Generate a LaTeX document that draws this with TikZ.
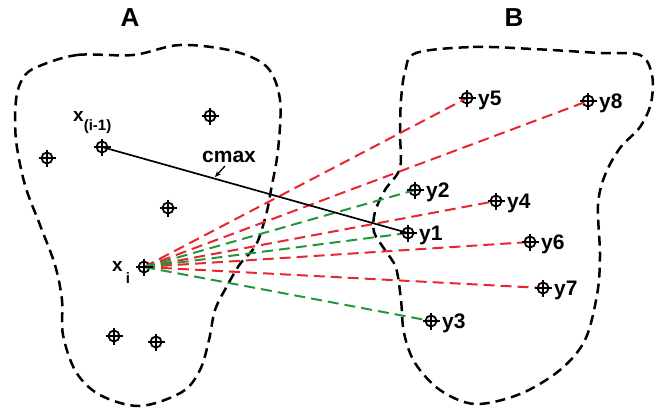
\documentclass[tikz,border=0pt]{standalone}
\usepackage{fontspec}
\setmainfont{Liberation Sans}
\usetikzlibrary{arrows.meta}
\definecolor{lred}{RGB}{232,38,48}
\definecolor{lgreen}{RGB}{34,150,60}
\begin{document}
\begin{tikzpicture}[x=1pt,y=-1pt,
  mk/.style={circle, draw=black, line width=1.8pt, minimum size=11pt, inner sep=0pt},
  cross/.style={line width=1.8pt},
  bound/.style={line width=2.5pt, dash pattern=on 10pt off 6pt},
  rl/.style={lred, line width=2pt, dash pattern=on 11pt off 6pt},
  gl/.style={lgreen, line width=2pt, dash pattern=on 11pt off 6pt},
  lbl/.style={anchor=base west, inner sep=0pt, font=\fontsize{21}{21}\selectfont\bfseries},
  big/.style={anchor=base, inner sep=0pt, font=\fontsize{26}{26}\selectfont\bfseries}]
\useasboundingbox (0,0) rectangle (666,413);
% regions
\draw[bound] plot[smooth cycle, tension=0.55] coordinates {
 (37,67) (77,55) (133,55) (180,45) (233,51) (267,67) (280,100) (278,150) (271,190)
 (266,215) (256,245) (240,264) (227,286) (215,310) (209,340) (200,370) (182,392)
 (140,406) (100,395) (76,372) (63,335) (62,300) (55,265) (40,225) (25,185) (16,140) (16,100) (23,78)};
\draw[bound] plot[smooth cycle, tension=0.55] coordinates {
 (416,53) (473,47) (533,49) (600,53) (640,55) (652,75) (651,103) (640,127) (620,148)
 (605,175) (598,205) (600,256) (597,295) (585,340) (560,370) (520,394) (475,404)
 (440,390) (415,363) (404,333) (401,300) (396,268) (385,250) (374,232) (375,212) (385,190) (400,168)
 (400,133) (401,100) (405,72)};
% markers
\node[mk] (xim1) at (102,147) {};
\node[mk] (a2) at (210,116) {};
\node[mk] (a3) at (47,158) {};
\node[mk] (a4) at (168,208) {};
\node[mk] (xi) at (144,267) {};
\node[mk] (a6) at (114,336) {};
\node[mk] (a7) at (156,342) {};
\node[mk] (y5) at (467,98) {};
\node[mk] (y8) at (588,101) {};
\node[mk] (y2) at (415,190) {};
\node[mk] (y4) at (496,201) {};
\node[mk] (y1) at (408,233) {};
\node[mk] (y6) at (530,242) {};
\node[mk] (y7) at (543,288) {};
\node[mk] (y3) at (431,321) {};
% connectors
\foreach \t in {y5,y8,y4,y6,y7} \draw[rl] (xi.center) -- (\t.center);
\foreach \t in {y2,y1,y3} \draw[gl] (xi.center) -- (\t.center);
\draw[line width=1.7pt] (xim1.center) -- (y1.center);
% crosses
\foreach \n in {xim1,a2,a3,a4,xi,a6,a7,y5,y8,y2,y4,y1,y6,y7,y3}
  \draw[cross] (\n.center) +(-8.5,0) -- +(8.5,0) (\n.center) +(0,-8.5) -- +(0,8.5);
% labels
\foreach \n in {y5,y8,y2,y4,y1,y6,y7,y3}
  \node[lbl] (l\n) at ([shift={(11,7.5)}]\n.center) {\n};
\node[big] (lA) at (130,26) {A};
\node[big] (lB) at (514,26) {B};
\node[lbl] (lcmax) at (202,162) {cmax};
\coordinate (cm) at (215,177);
\draw[line width=1.3pt,-{Stealth[length=6pt,width=5pt]}] (225,166) -- (cm);
\node[anchor=base west, inner sep=0pt, font=\fontsize{19}{19}\selectfont\bfseries] (lxim1) at (73,121) {x\raisebox{-9pt}{\fontsize{15}{15}\selectfont(i-1)}};
\node[anchor=base west, inner sep=0pt, font=\fontsize{19}{19}\selectfont\bfseries] (lxi) at (112,271) {x\hspace{3pt}\raisebox{-12pt}{\fontsize{15}{15}\selectfont i}};
\end{tikzpicture}
\end{document}
